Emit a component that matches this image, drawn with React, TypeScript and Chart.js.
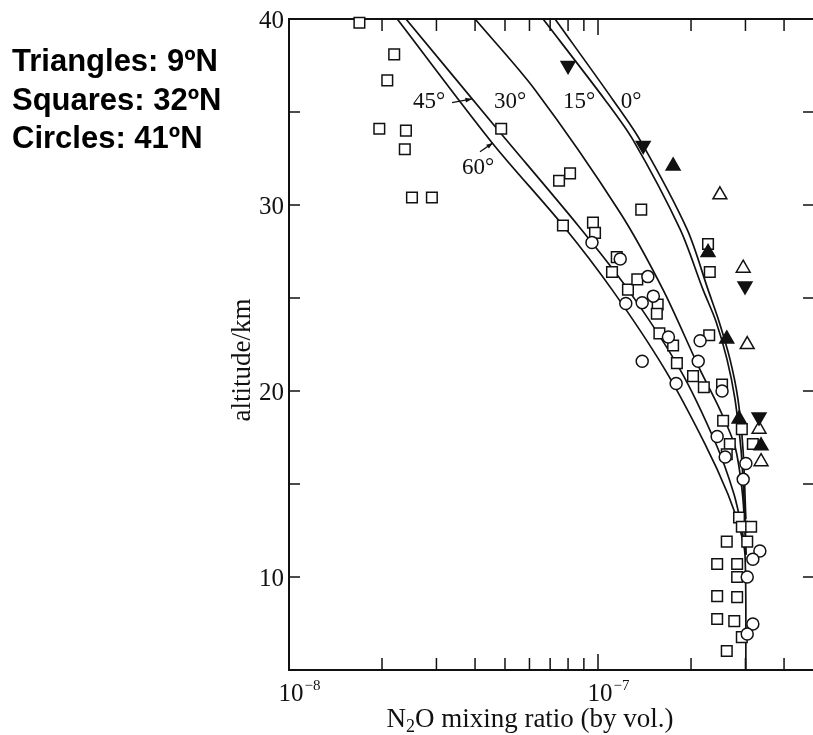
import React, { useEffect, useRef } from "react";
import { Chart, registerables } from "chart.js";

Chart.register(...registerables);

// ---------- axis ranges & ticks ----------
const X_MIN = 1e-8;
const X_MAX = 5e-7;
const Y_MIN = 5;
const Y_MAX = 40;
const xMinorTicks = [2e-8, 3e-8, 4e-8, 5e-8, 6e-8, 7e-8, 8e-8, 9e-8, 2e-7, 3e-7, 4e-7];
const xMajorTicks = [1e-7];
const xTickLabels: [number, string][] = [
  [1e-8, "−8"],
  [1e-7, "−7"],
];
const yTicks = [10, 15, 20, 25, 30, 35];
const yTickLabels = [10, 20, 30, 40];

// ---------- observations (x = N2O mixing ratio, y = altitude km) ----------
const squares: [number, number][] = [
  [1.69e-8, 39.8], [2.19e-8, 38.1], [2.08e-8, 36.7], [1.96e-8, 34.1], [2.39e-8, 34.0],
  [2.37e-8, 33.0], [2.5e-8, 30.4], [2.9e-8, 30.4], [4.86e-8, 34.1], [7.48e-8, 31.3],
  [8.12e-8, 31.7], [7.7e-8, 28.9], [9.63e-8, 29.05], [9.78e-8, 28.5], [1.15e-7, 27.2],
  [1.38e-7, 29.75], [1.11e-7, 26.4], [1.25e-7, 25.45], [1.34e-7, 26.0], [1.56e-7, 24.65],
  [1.55e-7, 24.15], [1.58e-7, 23.1], [1.75e-7, 22.45], [1.8e-7, 21.5], [2.03e-7, 20.8],
  [2.2e-7, 20.2], [2.29e-7, 23.0], [2.27e-7, 27.9], [2.3e-7, 26.4], [2.52e-7, 20.35],
  [2.54e-7, 18.4], [2.92e-7, 17.95], [2.67e-7, 17.15], [3.17e-7, 17.15], [2.61e-7, 16.6],
  [2.86e-7, 13.2], [2.92e-7, 12.7], [3.13e-7, 12.7], [2.61e-7, 11.9], [3.04e-7, 11.9],
  [2.43e-7, 10.7], [2.82e-7, 10.7], [2.82e-7, 10.0], [2.43e-7, 8.97], [2.82e-7, 8.92],
  [2.43e-7, 7.74], [2.76e-7, 7.63], [2.92e-7, 6.77], [2.61e-7, 6.02],
];
const circles: [number, number][] = [
  [9.56e-8, 27.98], [1.18e-7, 27.1], [1.23e-7, 24.7], [1.39e-7, 24.75], [1.51e-7, 25.1],
  [1.45e-7, 26.15], [1.69e-7, 22.9], [2.14e-7, 22.7], [1.39e-7, 21.6], [2.11e-7, 21.6],
  [1.79e-7, 20.4], [2.52e-7, 20.0], [2.43e-7, 17.55], [2.58e-7, 16.45], [3.01e-7, 16.1],
  [2.95e-7, 15.25], [3.34e-7, 11.4], [3.17e-7, 10.95], [3.04e-7, 10.0], [3.17e-7, 7.47],
  [3.04e-7, 6.94],
];
const trianglesDownFilled: [number, number][] = [
  [8.0e-8, 37.5], [1.4e-7, 33.2], [2.99e-7, 25.65], [3.32e-7, 18.6],
];
const trianglesUpFilled: [number, number][] = [
  [1.75e-7, 32.1], [2.27e-7, 27.45], [2.61e-7, 22.8], [2.86e-7, 18.5], [3.37e-7, 17.05],
];
const trianglesUpOpen: [number, number][] = [
  [2.48e-7, 30.55], [2.95e-7, 26.6], [3.04e-7, 22.5], [3.32e-7, 17.95], [3.37e-7, 16.2],
];

// ---------- model curves by latitude ----------
const curve60: [number, number][] = [
  [2.24e-8, 40], [4.54e-8, 33.35], [7.7e-8, 28.9], [1.11e-7, 25.45], [1.647e-7, 21.15],
  [2.22e-7, 17.15], [2.634e-7, 14.45], [2.881e-7, 12.55], [2.99e-7, 11.2], [3.01e-7, 5],
];
const curve45: [number, number][] = [
  [2.39e-8, 40], [4.71e-8, 34.1], [8.62e-8, 28.9], [1.251e-7, 25.45], [1.843e-7, 21.15],
  [2.409e-7, 17.15], [2.755e-7, 14.45], [2.924e-7, 12.55], [3.01e-7, 11.2],
];
const curve30: [number, number][] = [
  [4.0e-8, 40], [6.25e-8, 36.2], [1.178e-7, 29.6], [1.623e-7, 25.45], [2.138e-7, 21.15],
  [2.48e-7, 19.0], [2.776e-7, 17.0], [2.924e-7, 14.7], [2.99e-7, 12.55], [3.01e-7, 11.2],
];
const curve15: [number, number][] = [
  [6.64e-8, 40], [1.054e-7, 35.65], [1.298e-7, 33.5], [1.843e-7, 28.7], [2.187e-7, 25.45],
  [2.409e-7, 23.74], [2.615e-7, 21.7], [2.776e-7, 19.55], [2.903e-7, 16.85], [2.99e-7, 13.1],
  [3.01e-7, 11.2],
];
const curve0: [number, number][] = [
  [7.26e-8, 40], [1.118e-7, 35.65], [1.367e-7, 33.5], [1.941e-7, 28.7], [2.27e-7, 25.45],
  [2.464e-7, 23.74], [2.674e-7, 21.7], [2.838e-7, 19.55], [2.946e-7, 16.85], [3.01e-7, 13.1],
];

// curve labels: [text, x, y]
const curveLabels: [string, number, number][] = [
  ["45°", 2.84e-8, 35.55],
  ["30°", 5.19e-8, 35.55],
  ["15°", 8.68e-8, 35.55],
  ["0°", 1.279e-7, 35.55],
  ["60°", 4.09e-8, 32.0],
];
// label arrows: [x0, y0, x1, y1]
const labelArrows: [number, number, number, number][] = [
  [3.37e-8, 35.5, 3.91e-8, 35.7],
  [4.15e-8, 32.86, 4.57e-8, 33.34],
];

const noteLines = ["Triangles: 9ºN", "Squares: 32ºN", "Circles: 41ºN"];

const toPts = (a: [number, number][]) => a.map(([x, y]) => ({ x, y }));

const SERIF = '"Liberation Serif", "DejaVu Serif", serif';

const framePlugin = {
  id: "framePlugin",
  beforeDatasetsDraw(chart: any) {
    const { ctx, chartArea: a, scales } = chart;
    const xs = scales.x;
    const ys = scales.y;
    ctx.save();
    ctx.strokeStyle = "#111";
    ctx.lineWidth = 2;
    ctx.beginPath();
    ctx.moveTo(a.left, a.top);
    ctx.lineTo(a.right, a.top);
    ctx.moveTo(a.left, a.top - 1);
    ctx.lineTo(a.left, a.bottom + 1);
    ctx.moveTo(a.left, a.bottom);
    ctx.lineTo(a.right, a.bottom);
    ctx.moveTo(a.right, a.top);
    ctx.lineTo(a.right, a.bottom);
    ctx.stroke();

    ctx.lineWidth = 1.5;
    ctx.beginPath();
    const xt = (v: number, len: number) => {
      const px = xs.getPixelForValue(v);
      ctx.moveTo(px, a.bottom);
      ctx.lineTo(px, a.bottom - len);
      ctx.moveTo(px, a.top);
      ctx.lineTo(px, a.top + len);
    };
    xMinorTicks.forEach((v) => xt(v, 12));
    xMajorTicks.forEach((v) => xt(v, 16));
    yTicks.forEach((v) => {
      const py = ys.getPixelForValue(v);
      ctx.moveTo(a.left, py);
      ctx.lineTo(a.left + 11, py);
      ctx.moveTo(a.right, py);
      ctx.lineTo(a.right - 11, py);
    });
    ctx.stroke();

    // tick labels
    ctx.fillStyle = "#111";
    ctx.font = `25px ${SERIF}`;
    ctx.textAlign = "right";
    ctx.textBaseline = "middle";
    yTickLabels.forEach((v) => {
      ctx.fillText(String(v), a.left - 5, ys.getPixelForValue(v) + 2);
    });
    ctx.textBaseline = "alphabetic";
    xTickLabels.forEach(([v, exp]) => {
      const px = xs.getPixelForValue(v);
      ctx.font = `25px ${SERIF}`;
      ctx.textAlign = "center";
      ctx.fillText("10", px + 2, a.bottom + 31);
      const w = ctx.measureText("10").width;
      ctx.font = `15px ${SERIF}`;
      ctx.textAlign = "left";
      ctx.fillText(exp, px + 2 + w / 2 + 1, a.bottom + 20);
    });

    // x title with subscript
    const cx = 530;
    const by = 727;
    ctx.font = `27px ${SERIF}`;
    const wN = ctx.measureText("N").width;
    const rest = "O mixing ratio (by vol.)";
    const wR = ctx.measureText(rest).width;
    ctx.font = `18px ${SERIF}`;
    const w2 = ctx.measureText("2").width;
    const total = wN + w2 + wR;
    let sx = cx - total / 2;
    ctx.textAlign = "left";
    ctx.font = `27px ${SERIF}`;
    ctx.fillText("N", sx, by);
    sx += wN;
    ctx.font = `18px ${SERIF}`;
    ctx.fillText("2", sx, by + 5);
    sx += w2;
    ctx.font = `27px ${SERIF}`;
    ctx.fillText(rest, sx, by);

    // y title
    ctx.save();
    ctx.translate(250, 360);
    ctx.rotate(-Math.PI / 2);
    ctx.textAlign = "center";
    ctx.font = `27px ${SERIF}`;
    ctx.fillText("altitude/km", 0, 0);
    ctx.restore();

    // curve labels
    ctx.font = `23px ${SERIF}`;
    ctx.textAlign = "center";
    ctx.textBaseline = "middle";
    curveLabels.forEach(([t, x, y]) => {
      ctx.fillText(t, xs.getPixelForValue(x), ys.getPixelForValue(y));
    });
    // arrows
    ctx.lineWidth = 1.3;
    labelArrows.forEach(([x0, y0, x1, y1]) => {
      const p0x = xs.getPixelForValue(x0);
      const p0y = ys.getPixelForValue(y0);
      const p1x = xs.getPixelForValue(x1);
      const p1y = ys.getPixelForValue(y1);
      ctx.beginPath();
      ctx.moveTo(p0x, p0y);
      ctx.lineTo(p1x, p1y);
      ctx.stroke();
      const ang = Math.atan2(p1y - p0y, p1x - p0x);
      ctx.beginPath();
      ctx.moveTo(p1x, p1y);
      ctx.lineTo(p1x - 7 * Math.cos(ang - 0.35), p1y - 7 * Math.sin(ang - 0.35));
      ctx.lineTo(p1x - 7 * Math.cos(ang + 0.35), p1y - 7 * Math.sin(ang + 0.35));
      ctx.closePath();
      ctx.fill();
    });
    ctx.restore();
  },
};

export default function App() {
  const ref = useRef<HTMLCanvasElement>(null);
  useEffect(() => {
    if (!ref.current) return;
    const markerBase = {
      type: "scatter" as const,
      showLine: false,
      clip: false as any,
      borderColor: "#111",
      borderWidth: 1.5,
    };
    const curve = (d: [number, number][], label: string) => ({
      type: "line" as const,
      label,
      data: toPts(d),
      showLine: true,
      borderColor: "#111",
      borderWidth: 1.7,
      pointRadius: 0,
      tension: 0.3,
      fill: false,
    });
    const chart = new Chart(ref.current, {
      type: "scatter",
      data: {
        datasets: [
          { ...markerBase, label: "9N down", data: toPts(trianglesDownFilled), pointStyle: "triangle", rotation: 180, pointRadius: 8, backgroundColor: "#111" },
          { ...markerBase, label: "9N up", data: toPts(trianglesUpFilled), pointStyle: "triangle", pointRadius: 8, backgroundColor: "#111" },
          { ...markerBase, label: "9N open", data: toPts(trianglesUpOpen), pointStyle: "triangle", pointRadius: 8, backgroundColor: "#fff" },
          { ...markerBase, label: "41N", data: toPts(circles), pointStyle: "circle", pointRadius: 6, backgroundColor: "#fff" },
          { ...markerBase, label: "32N", data: toPts(squares), pointStyle: "rect", pointRadius: 7.5, backgroundColor: "#fff" },
          curve(curve0, "0°"),
          curve(curve15, "15°"),
          curve(curve30, "30°"),
          curve(curve45, "45°"),
          curve(curve60, "60°"),
        ] as any,
      },
      options: {
        animation: false,
        responsive: false,
        devicePixelRatio: 1,
        events: [],
        layout: { padding: { left: 289, top: 19, right: 16, bottom: 65 } },
        plugins: { legend: { display: false }, tooltip: { enabled: false } },
        scales: {
          x: { type: "logarithmic", min: X_MIN, max: X_MAX, display: false },
          y: { type: "linear", min: Y_MIN, max: Y_MAX, display: false },
        },
      },
      plugins: [framePlugin],
    });
    return () => chart.destroy();
  }, []);

  return (
    <div
      style={{
        position: "fixed",
        left: 0,
        top: 0,
        width: 813,
        height: 735,
        overflow: "hidden",
        background: "#fff",
      }}
    >
      <canvas
        ref={ref}
        width={830}
        height={735}
        style={{ position: "absolute", left: 0, top: 0, width: 830, height: 735 }}
      />
      <div
        style={{
          position: "absolute",
          left: 12,
          top: 42,
          font: 'bold 31px "Liberation Sans", Arial, sans-serif',
          lineHeight: "38.5px",
          color: "#000",
          whiteSpace: "pre",
        }}
      >
        {noteLines.map((t) => (
          <div key={t}>{t}</div>
        ))}
      </div>
    </div>
  );
}
